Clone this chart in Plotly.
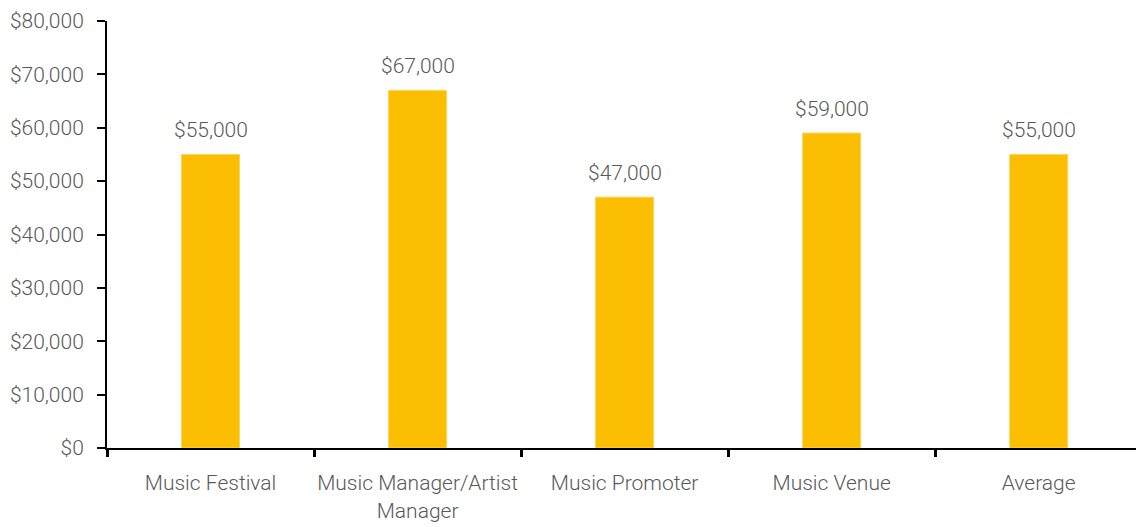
import plotly.graph_objects as go

categories = ["Music Festival", "Music Manager/Artist<br>Manager", "Music Promoter", "Music Venue", "Average"]
salaries = [55000, 67000, 47000, 59000, 55000]
y_ticks = [0, 10000, 20000, 30000, 40000, 50000, 60000, 70000, 80000]
y_tick_labels = ["$0", "$10,000", "$20,000", "$30,000", "$40,000", "$50,000", "$60,000", "$70,000", "$80,000"]

text_color = "#595959"
font_family = "Roboto"

fig = go.Figure(
    go.Bar(
        x=categories,
        y=salaries,
        marker=dict(color="#FBBE00", line=dict(color="#FCD35A", width=1)),
        width=0.28,
        hoverinfo="skip",
    )
)

for cat, val in zip(categories, salaries):
    fig.add_annotation(
        x=cat, y=val, text=f"${val:,}", showarrow=False,
        yanchor="bottom", yshift=10,
        font=dict(family=font_family, size=21, color=text_color, weight=300),
    )

fig.update_layout(
    width=1136, height=527,
    margin=dict(l=107, r=0, t=21, b=79),
    plot_bgcolor="white", paper_bgcolor="white",
    showlegend=False,
    font=dict(family=font_family, size=21, color=text_color, weight=300),
)

fig.update_yaxes(
    range=[0, 80000], tickvals=y_ticks, ticktext=y_tick_labels,
    showgrid=False, zeroline=False, automargin=False,
    showline=True, linecolor="black", linewidth=2,
    ticks="outside", ticklen=8, tickwidth=2, tickcolor="black",
    ticklabelstandoff=9,
)
fig.update_xaxes(
    range=[-0.5, 4.47], tickangle=0, automargin=False,
    showgrid=False, showline=True, linecolor="black", linewidth=2,
    ticks="outside", ticklen=7, tickwidth=3, tickcolor="black",
    tickson="boundaries", ticklabelstandoff=15,
)

fig.write_html("out.html")
